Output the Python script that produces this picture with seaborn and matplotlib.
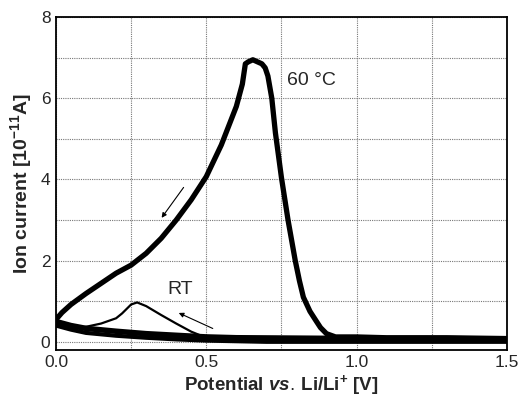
import numpy as np
import pandas as pd
import seaborn as sns
import matplotlib
matplotlib.use("Agg")
import matplotlib.pyplot as plt
from matplotlib.ticker import MultipleLocator

# 60 °C: reverse scan (1.5 V -> 0 V) through the big peak
hot_rev_x = [1.5, 1.3, 1.1, 1.0, 0.93, 0.9, 0.88, 0.865, 0.845, 0.823, 0.81,
             0.796, 0.772, 0.75, 0.73, 0.718, 0.705, 0.696, 0.685, 0.67,
             0.655, 0.64, 0.63, 0.62, 0.6, 0.55, 0.5, 0.45, 0.4, 0.35, 0.3,
             0.25, 0.2, 0.15, 0.1, 0.05, 0.02, 0.0]
hot_rev_y = [0.08, 0.1, 0.1, 0.12, 0.12, 0.2, 0.35, 0.52, 0.75, 1.1, 1.5,
             2.0, 3.0, 4.05, 5.15, 6.0, 6.55, 6.75, 6.85, 6.9,
             6.95, 6.9, 6.85, 6.35, 5.8, 4.85, 4.07, 3.5, 3.0, 2.55, 2.18,
             1.89, 1.69, 1.44, 1.19, 0.92, 0.72, 0.55]
# 60 °C: forward scan baseline (0 V -> 1.5 V)
hot_fwd_x = [0.0, 0.05, 0.1, 0.2, 0.3, 0.4, 0.5, 0.6, 0.8, 1.0, 1.2, 1.5]
hot_fwd_y = [0.5, 0.4, 0.33, 0.26, 0.2, 0.16, 0.12, 0.1, 0.09, 0.08, 0.08, 0.07]

# RT: reverse scan with small peak
rt_rev_x = [1.5, 1.2, 0.9, 0.6, 0.52, 0.5, 0.45, 0.4, 0.35, 0.3, 0.27,
            0.25, 0.22, 0.2, 0.15, 0.1, 0.05, 0.0]
rt_rev_y = [0.03, 0.03, 0.04, 0.05, 0.08, 0.1, 0.25, 0.45, 0.66, 0.88, 0.97,
            0.92, 0.7, 0.58, 0.45, 0.37, 0.33, 0.42]
# RT: forward scan baseline
rt_fwd_x = [0.0, 0.05, 0.1, 0.2, 0.3, 0.4, 0.5, 0.7, 1.0, 1.5]
rt_fwd_y = [0.4, 0.3, 0.22, 0.15, 0.1, 0.06, 0.03, 0.0, 0.0, 0.0]

x_ticks = [0.0, 0.5, 1.0, 1.5]
y_ticks = [0, 2, 4, 6, 8]

def seg(xs, ys, name):
    return pd.DataFrame({"x": xs, "y": ys, "seg": name, "order": range(len(xs))})

df = pd.concat([
    seg(hot_fwd_x, hot_fwd_y, "hot_fwd"),
    seg(hot_rev_x, hot_rev_y, "hot_rev"),
    seg(rt_fwd_x, rt_fwd_y, "rt_fwd"),
    seg(rt_rev_x, rt_rev_y, "rt_rev"),
])

sns.set_style("white")
plt.rcParams['font.family'] = ['Liberation Sans', 'DejaVu Sans']
plt.rcParams['mathtext.fontset'] = 'custom'
plt.rcParams['mathtext.rm'] = 'Liberation Sans'
plt.rcParams['mathtext.it'] = 'Liberation Sans:italic:bold'
plt.rcParams['mathtext.bf'] = 'Liberation Sans:bold'

fig = plt.figure(figsize=(5.28, 3.99), dpi=100)
ax = fig.add_axes([0.106, 0.123, 0.854, 0.834])

widths = {"hot_fwd": 4.0, "hot_rev": 3.8, "rt_fwd": 3.0, "rt_rev": 1.6}
for name, w in widths.items():
    sub = df[df.seg == name]
    sns.lineplot(data=sub, x="x", y="y", sort=False, estimator=None,
                 color="black", lw=w, ax=ax, solid_joinstyle="round")

ax.set_xlim(0, 1.5)
ax.set_ylim(-0.2, 8)
ax.set_xticks(x_ticks)
ax.set_xticklabels([f"{v:.1f}" for v in x_ticks])
ax.set_yticks(y_ticks)
ax.set_yticklabels([str(v) for v in y_ticks])
ax.xaxis.set_minor_locator(MultipleLocator(0.25))
ax.yaxis.set_minor_locator(MultipleLocator(1))
ax.grid(True, which="both", color="#777777", linestyle=(0, (1, 1)), lw=0.8)
ax.tick_params(which="both", length=0, labelsize=12.5, pad=4)
for s in ax.spines.values():
    s.set_color("black")
    s.set_linewidth(1.3)

ax.set_xlabel(r"Potential $\mathit{vs.}\/$Li/Li$^{\mathbf{+}}$ [V]",
              fontsize=13.5, fontweight="bold", labelpad=2)
ax.set_ylabel(r"Ion current [10$^{\mathbf{-11}}$A]", fontsize=14,
              fontweight="bold", labelpad=5)

ax.text(0.77, 6.45, "60 °C", fontsize=14, va="center", ha="left")
ax.text(0.37, 1.28, "RT", fontsize=14, va="center", ha="left")

ax.annotate("", xy=(0.346, 3.0), xytext=(0.43, 3.86),
            arrowprops=dict(arrowstyle="-|>", color="black", lw=0.8,
                            mutation_scale=7))
ax.annotate("", xy=(0.40, 0.74), xytext=(0.53, 0.30),
            arrowprops=dict(arrowstyle="-|>", color="black", lw=0.8,
                            mutation_scale=7))

fig.savefig("out.png", dpi=100)
